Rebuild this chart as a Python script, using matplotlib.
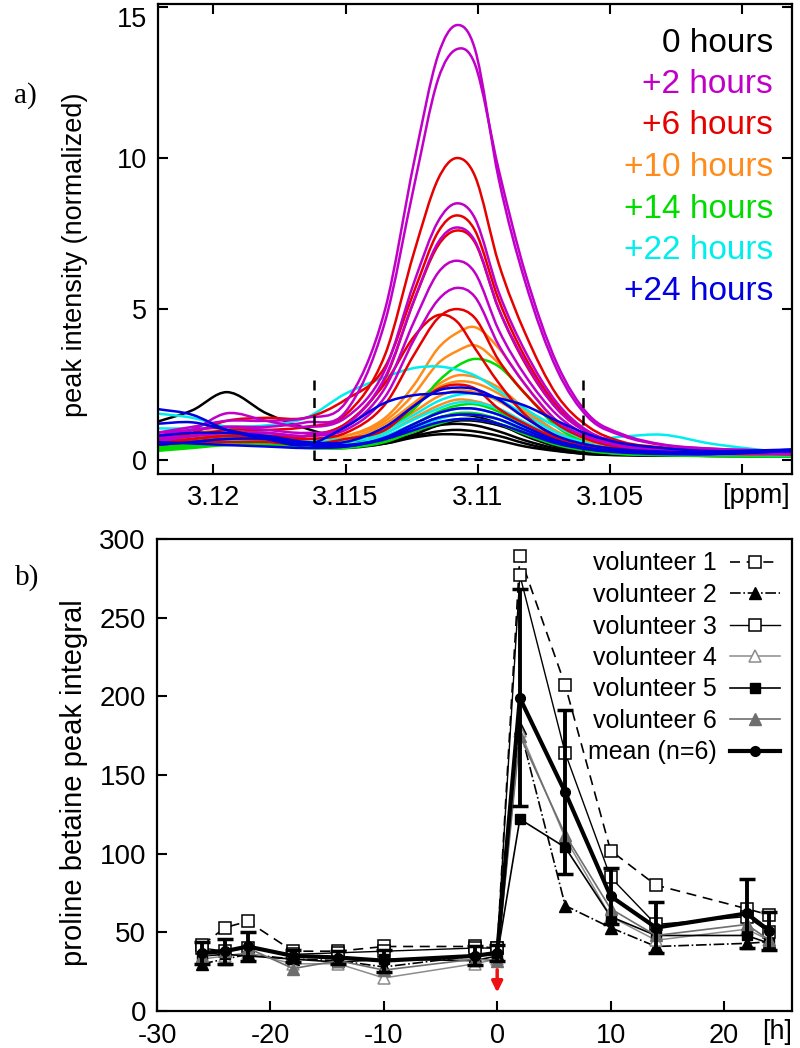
import matplotlib
matplotlib.use('Agg')
import matplotlib.pyplot as plt
from matplotlib.path import Path
from matplotlib.patches import PathPatch
from matplotlib.lines import Line2D

plt.rcParams['font.family'] = ['Liberation Sans', 'DejaVu Sans']
plt.rcParams['axes.unicode_minus'] = False

# ---------------- panel a data ----------------
ppm_grid = [3.1222, 3.1208, 3.1195, 3.1180, 3.1165, 3.1150, 3.1135, 3.1124, 3.1115,
            3.1108, 3.1101, 3.1092, 3.1082, 3.1070, 3.1058, 3.1045, 3.1030, 3.1012, 3.0981]

curves_0h = [
    [1.25, 1.65, 2.25, 1.55, 1.05, 0.70, 0.60, 0.85, 1.15, 1.30, 1.30, 1.15, 0.85, 0.50, 0.30, 0.22, 0.18, 0.16, 0.15],
    [0.70, 0.75, 0.80, 0.70, 0.55, 0.45, 0.55, 0.75, 0.85, 0.85, 0.80, 0.65, 0.45, 0.30, 0.20, 0.17, 0.15, 0.14, 0.13],
    [0.50, 0.55, 0.60, 0.55, 0.45, 0.40, 0.55, 0.80, 0.95, 1.00, 0.95, 0.80, 0.55, 0.32, 0.20, 0.16, 0.15, 0.14, 0.13],
    [0.80, 0.80, 0.75, 0.65, 0.50, 0.45, 0.70, 1.10, 1.40, 1.50, 1.45, 1.20, 0.80, 0.45, 0.27, 0.20, 0.17, 0.15, 0.14],
    [0.60, 0.65, 0.70, 0.60, 0.50, 0.42, 0.60, 0.95, 1.15, 1.20, 1.15, 0.95, 0.65, 0.38, 0.24, 0.18, 0.16, 0.14, 0.13],
]
curves_2h = [
    [0.90, 1.10, 1.30, 1.30, 1.40, 1.90, 5.00, 9.90, 13.4, 14.4, 13.6, 9.30, 5.90, 3.00, 1.40, 0.80, 0.50, 0.38, 0.30],
    [0.80, 1.00, 1.10, 1.10, 1.25, 1.60, 4.60, 9.10, 12.6, 13.6, 13.1, 9.60, 6.20, 3.20, 1.50, 0.85, 0.52, 0.38, 0.30],
    [0.70, 1.00, 1.55, 1.30, 1.10, 1.40, 3.00, 5.90, 7.90, 8.50, 8.00, 5.55, 3.60, 1.90, 0.95, 0.55, 0.38, 0.30, 0.25],
    [0.60, 0.80, 0.90, 0.90, 0.80, 1.15, 2.75, 5.30, 7.20, 7.70, 7.25, 5.00, 3.25, 1.70, 0.90, 0.50, 0.36, 0.30, 0.25],
    [0.90, 1.00, 1.10, 1.00, 0.90, 1.10, 2.40, 4.60, 6.20, 6.60, 6.20, 4.30, 2.80, 1.50, 0.80, 0.47, 0.34, 0.28, 0.22],
    [0.70, 0.80, 0.90, 0.90, 0.80, 1.00, 2.10, 4.00, 5.30, 5.70, 5.40, 3.80, 2.50, 1.30, 0.75, 0.45, 0.32, 0.25, 0.20],
]
curves_6h = [
    [0.70, 0.80, 1.00, 1.00, 1.10, 1.50, 3.50, 6.90, 9.30, 10.0, 9.40, 6.50, 4.20, 2.15, 1.10, 0.60, 0.42, 0.30, 0.25],
    [0.60, 0.90, 1.30, 1.40, 1.40, 2.00, 3.10, 5.60, 7.55, 8.10, 7.60, 5.30, 3.40, 1.80, 0.92, 0.55, 0.38, 0.28, 0.22],
    [0.50, 0.70, 0.80, 0.80, 0.80, 1.20, 2.70, 5.30, 7.10, 7.60, 7.20, 5.00, 3.20, 1.70, 0.90, 0.50, 0.35, 0.27, 0.20],
    [0.60, 0.70, 0.80, 0.80, 0.70, 0.90, 1.85, 3.50, 4.70, 5.00, 4.70, 3.30, 2.20, 1.20, 0.68, 0.40, 0.30, 0.25, 0.20],
    [0.50, 0.60, 0.70, 0.70, 0.80, 1.20, 2.55, 4.10, 4.80, 4.60, 3.70, 2.55, 1.50, 0.75, 0.50, 0.35, 0.27, 0.22, 0.20],
    [0.50, 0.60, 0.60, 0.60, 0.50, 0.70, 1.00, 1.80, 2.35, 2.50, 2.37, 1.70, 1.20, 0.72, 0.45, 0.30, 0.25, 0.20, 0.20],
]
curves_10h = [
    [0.60, 0.70, 0.80, 0.80, 0.70, 0.80, 1.40, 2.50, 3.70, 4.20, 4.40, 3.70, 2.50, 1.30, 0.65, 0.40, 0.30, 0.25, 0.20],
    [0.70, 0.80, 0.90, 0.80, 0.70, 0.80, 1.30, 2.20, 3.20, 3.60, 3.80, 3.20, 2.20, 1.20, 0.62, 0.40, 0.30, 0.25, 0.20],
    [0.60, 0.70, 0.80, 0.80, 0.60, 0.70, 1.20, 1.90, 2.50, 2.80, 2.75, 2.40, 1.70, 0.95, 0.55, 0.35, 0.27, 0.22, 0.20],
    [0.80, 0.90, 1.00, 0.90, 0.70, 0.70, 1.10, 1.80, 2.40, 2.60, 2.55, 2.20, 1.60, 0.90, 0.50, 0.33, 0.26, 0.22, 0.20],
    [0.50, 0.60, 0.70, 0.70, 0.60, 0.60, 1.00, 1.60, 2.10, 2.30, 2.25, 1.95, 1.40, 0.80, 0.45, 0.30, 0.25, 0.20, 0.18],
    [0.70, 0.80, 0.90, 0.80, 0.60, 0.60, 0.90, 1.40, 1.80, 2.00, 1.95, 1.70, 1.20, 0.70, 0.42, 0.30, 0.24, 0.20, 0.18],
]
curves_14h = [
    [0.40, 0.50, 0.60, 0.60, 0.50, 0.60, 1.00, 1.70, 2.60, 3.10, 3.35, 3.10, 2.20, 1.10, 0.55, 0.30, 0.22, 0.18, 0.15],
    [0.30, 0.40, 0.50, 0.50, 0.45, 0.50, 0.80, 1.20, 1.60, 1.80, 1.85, 1.60, 1.10, 0.60, 0.35, 0.22, 0.18, 0.15, 0.12],
    [0.45, 0.55, 0.60, 0.55, 0.45, 0.45, 0.70, 1.10, 1.40, 1.55, 1.55, 1.35, 0.95, 0.55, 0.32, 0.20, 0.17, 0.14, 0.12],
    [0.35, 0.45, 0.50, 0.50, 0.40, 0.40, 0.60, 0.95, 1.20, 1.35, 1.35, 1.20, 0.85, 0.50, 0.30, 0.20, 0.16, 0.14, 0.12],
]
curves_22h = [
    [1.05, 1.05, 1.10, 1.15, 1.40, 2.20, 2.75, 3.05, 3.10, 3.00, 2.80, 2.30, 1.70, 1.10, 0.70, 0.78, 0.84, 0.55, 0.22],
    [1.55, 1.40, 1.10, 0.90, 0.70, 0.70, 1.00, 1.50, 1.95, 2.15, 2.20, 2.00, 1.50, 0.90, 0.55, 0.35, 0.28, 0.22, 0.20],
    [0.60, 0.70, 0.80, 0.70, 0.60, 0.60, 0.90, 1.35, 1.70, 1.90, 1.90, 1.70, 1.25, 0.75, 0.45, 0.30, 0.24, 0.20, 0.18],
    [0.70, 0.75, 0.75, 0.70, 0.55, 0.50, 0.80, 1.20, 1.55, 1.70, 1.70, 1.50, 1.10, 0.65, 0.40, 0.28, 0.22, 0.20, 0.18],
    [0.50, 0.60, 0.65, 0.60, 0.50, 0.45, 0.70, 1.05, 1.35, 1.50, 1.50, 1.35, 1.00, 0.60, 0.38, 0.26, 0.20, 0.18, 0.16],
]
curves_24h = [
    [0.80, 0.90, 0.90, 0.80, 0.60, 0.60, 1.10, 1.80, 2.30, 2.40, 2.35, 2.00, 1.40, 0.80, 0.50, 0.35, 0.28, 0.25, 0.30],
    [1.70, 1.50, 1.00, 0.70, 0.50, 1.10, 1.90, 2.15, 2.20, 2.25, 2.20, 2.05, 1.80, 1.30, 0.85, 0.55, 0.40, 0.30, 0.35],
    [0.50, 0.60, 0.70, 0.70, 0.50, 0.45, 0.75, 1.20, 1.55, 1.70, 1.70, 1.50, 1.10, 0.65, 0.40, 0.30, 0.25, 0.22, 0.30],
    [0.60, 0.55, 0.50, 0.45, 0.40, 0.45, 0.70, 1.10, 1.40, 1.50, 1.50, 1.35, 1.00, 0.60, 0.38, 0.27, 0.22, 0.20, 0.30],
    [1.20, 1.25, 1.00, 0.75, 0.55, 0.50, 0.70, 1.00, 1.25, 1.35, 1.35, 1.20, 0.90, 0.55, 0.35, 0.25, 0.20, 0.20, 0.35],
]

group_labels = ['0 hours', '+2 hours', '+6 hours', '+10 hours', '+14 hours', '+22 hours', '+24 hours']
group_colors = ['#000000', '#c000c8', '#e60000', '#ff8c1a', '#00dc00', '#00eeee', '#0000e0']

region_lo, region_hi, region_top = 3.1162, 3.1060, 2.75

# ---------------- panel b data ----------------
hours = [-26, -24, -22, -18, -14, -10, -2, 0, 2, 6, 10, 14, 22, 24]
vol1 = [42, 53, 57, 38, 38, 41, 41, 40, 289, 207, 102, 80, 65, 61]
vol2 = [30, 33, 36, 33, 32, 28, 35, 36, 180, 67, 53, 41, 43, 44]
vol3 = [40, 38, 40, 36, 37, 38, 40, 40, 277, 164, 85, 55, 60, 50]
vol4 = [33, 35, 37, 30, 30, 21, 30, 33, 178, 110, 60, 45, 52, 45]
vol5 = [35, 36, 35, 33, 31, 33, 32, 35, 122, 104, 60, 48, 48, 43]
vol6 = [35, 38, 40, 27, 32, 26, 33, 32, 175, 112, 65, 48, 55, 45]
mean6 = [37, 38, 41, 35, 34, 32, 35, 37, 199, 139, 73, 53, 62, 51]
err6 = [7, 8, 9, 4, 4, 7, 6, 5, 69, 52, 18, 16, 22, 12]


def smooth_path(xs, ys):
    """Smooth (Hermite/Bezier) rendering of a line through the read points."""
    n = len(xs)
    sec = [(ys[i + 1] - ys[i]) / (xs[i + 1] - xs[i]) for i in range(n - 1)]
    m = [sec[0]] + [(sec[i - 1] + sec[i]) / 2 for i in range(1, n - 1)] + [sec[-1]]
    verts = [(xs[0], ys[0])]
    codes = [Path.MOVETO]
    for i in range(n - 1):
        h = xs[i + 1] - xs[i]
        verts += [(xs[i] + h / 3, ys[i] + m[i] * h / 3),
                  (xs[i + 1] - h / 3, ys[i + 1] - m[i + 1] * h / 3),
                  (xs[i + 1], ys[i + 1])]
        codes += [Path.CURVE4] * 3
    return Path(verts, codes)


W, H = 800, 1048
fig = plt.figure(figsize=(W / 100, H / 100), dpi=100)

# ================= panel a =================
ax1 = fig.add_axes([158 / W, 1 - 474 / H, (792 - 158) / W, (474 - 4) / H])
draw_order = [0, 3, 4, 5, 2, 1, 6]
groups = [curves_0h, curves_2h, curves_6h, curves_10h, curves_14h, curves_22h, curves_24h]
for gi in draw_order:
    for c in groups[gi]:
        ax1.add_patch(PathPatch(smooth_path(ppm_grid, c), fill=False,
                                edgecolor=group_colors[gi], lw=1.8))

ax1.plot([region_lo, region_lo], [0, region_top], color='k', ls=(0, (4, 3)), lw=1.8)
ax1.plot([region_hi, region_hi], [0, region_top], color='k', ls=(0, (4, 3)), lw=1.8)
ax1.plot([region_lo, region_hi], [0, 0], color='k', ls=(0, (4, 3)), lw=1.5)

ax1.set_xlim(3.1221, 3.0981)
ax1.set_ylim(-0.46, 15.1)
ax1.set_xticks([3.12, 3.115, 3.11, 3.105, 3.10])
ax1.set_xticklabels(['3.12', '3.115', '3.11', '3.105', ''])
ax1.set_yticks([0, 5, 10, 15])
ax1.tick_params(direction='in', top=True, right=True, length=7, width=1.5,
                labelsize=19.5, pad=8)
ax1.get_yticklabels()[-1].set_verticalalignment('top')
for s in ax1.spines.values():
    s.set_linewidth(1.6)
ax1.set_ylabel('peak intensity (normalized)', fontsize=19.5)
ax1.yaxis.set_label_coords(-0.110, 0.466)
ax1.text(0.943, -0.047, '[ppm]', transform=ax1.transAxes, ha='center', va='center',
         fontsize=19.5)

leg_y0 = (474 - 43) / 470
leg_dy = 41.5 / 470
for i, (lab, col) in enumerate(zip(group_labels, group_colors)):
    ax1.text(0.970, leg_y0 - i * leg_dy, lab, color=col, transform=ax1.transAxes,
             ha='right', va='center', fontsize=24)

fig.text(25 / W, 1 - 96 / H, 'a)', family=['Liberation Serif', 'DejaVu Serif'],
         fontsize=21, ha='center', va='center')

# ================= panel b =================
ax2 = fig.add_axes([157 / W, 1 - 1011 / H, (792 - 157) / W, (1011 - 539) / H])
st1 = dict(color='k', ls=(0, (6, 4)), lw=1.2, marker='s', ms=8, mfc='white', mec='k', mew=1.1)
st2 = dict(color='k', ls='-.', lw=1.2, marker='^', ms=8, mfc='k', mec='k')
st3 = dict(color='k', ls='-', lw=1.0, marker='s', ms=8, mfc='white', mec='k', mew=1.1)
st4 = dict(color='#8c8c8c', ls='-', lw=1.1, marker='^', ms=8, mfc='white', mec='#8c8c8c', mew=1.1)
st5 = dict(color='k', ls='-', lw=1.2, marker='s', ms=7, mfc='k', mec='k')
st6 = dict(color='#6e6e6e', ls='-', lw=1.2, marker='^', ms=8, mfc='#6e6e6e', mec='#6e6e6e')
stm = dict(color='k', lw=3, marker='o', ms=7)

ax2.plot(hours, vol1, **st1)
ax2.plot(hours, vol2, **st2)
ax2.plot(hours, vol3, **st3)
ax2.plot(hours, vol4, **st4)
ax2.plot(hours, vol5, **st5)
ax2.plot(hours, vol6, **st6)
ax2.errorbar(hours, mean6, yerr=err6, capsize=6, capthick=2.5, elinewidth=2.8, **stm)

ax2.annotate('', xy=(0, 10), xytext=(0, 28),
             arrowprops=dict(arrowstyle='-|>', color='#ee1111', lw=2.5, mutation_scale=16))

ax2.set_xlim(-30, 26)
ax2.set_ylim(0, 300)
ax2.set_xticks([-30, -20, -10, 0, 10, 20])
ax2.set_yticks([0, 50, 100, 150, 200, 250, 300])
ax2.tick_params(direction='in', length=7, width=1.5, labelsize=20, pad=8)
ax2.tick_params(axis='x', pad=8.5, labelsize=19.5)
for s in ax2.spines.values():
    s.set_linewidth(1.6)
ax2.set_ylabel('proline betaine peak integral', fontsize=21)
ax2.yaxis.set_label_coords(-0.109, 0.483)
ax2.text(0.976, -0.045, '[h]', transform=ax2.transAxes, ha='center', va='center',
         fontsize=19.5)

leg_labels = ['volunteer 1', 'volunteer 2', 'volunteer 3', 'volunteer 4',
              'volunteer 5', 'volunteer 6', 'mean (n=6)']
leg_handles = [Line2D([], [], **s) for s in (st1, st2, st3, st4, st5, st6, stm)]
ax2.legend(leg_handles, leg_labels, loc='upper right', bbox_to_anchor=(1.0, 1.0),
           frameon=False, markerfirst=False, fontsize=18, handlelength=2.0,
           labelspacing=0.3, borderaxespad=0.3, handletextpad=0.5, borderpad=0.2)

fig.text(27 / W, 1 - 578 / H, 'b)', family=['Liberation Serif', 'DejaVu Serif'],
         fontsize=21, ha='center', va='center')

fig.savefig('out.png', dpi=100)
